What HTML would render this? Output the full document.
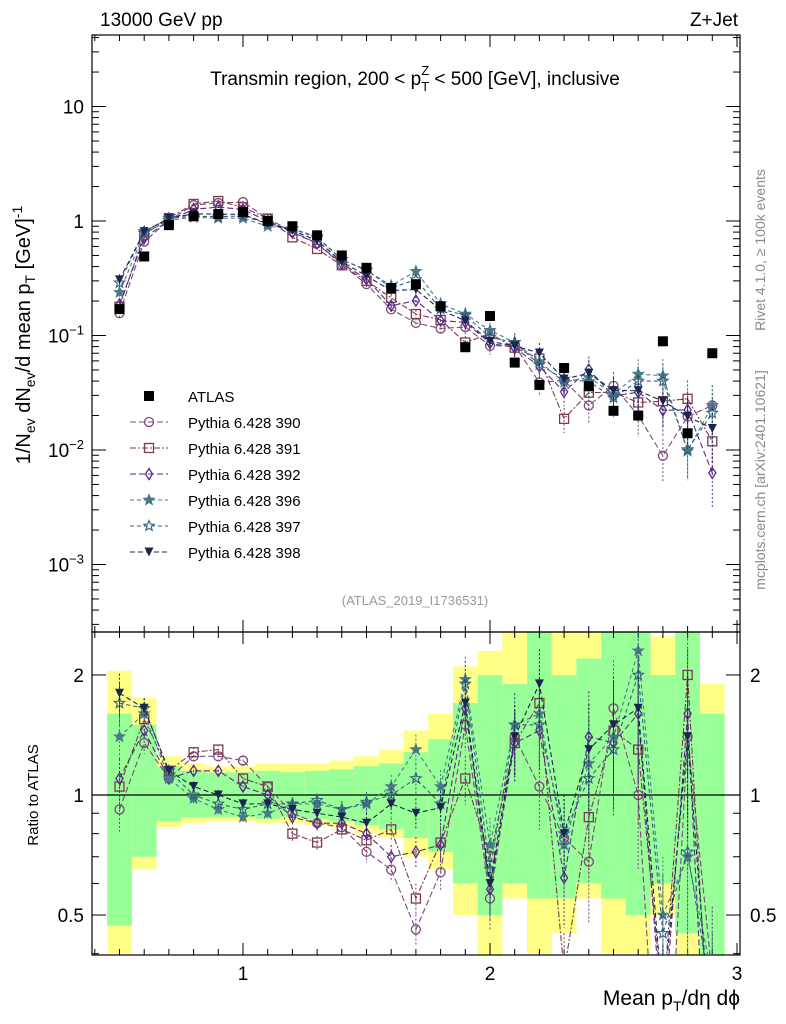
<!DOCTYPE html>
<html><head><meta charset="utf-8"><style>
html,body{margin:0;background:#fff;width:786px;height:1024px;overflow:hidden;}
svg{display:block;font-family:"Liberation Sans",sans-serif;}
</style></head><body>
<svg id="c" width="786" height="1024" xmlns="http://www.w3.org/2000/svg">
<text x="100" y="26" font-size="19">13000 GeV pp</text>
<text x="738" y="26" font-size="19" text-anchor="end">Z+Jet</text>
<text x="415" y="85" font-size="19" text-anchor="middle">Transmin region, 200 &lt; p<tspan font-size="13" dy="6">T</tspan><tspan font-size="13" dy="-16" dx="-8">Z</tspan><tspan dy="10"> &lt; 500 [GeV], inclusive</tspan></text>
<text x="415" y="605" font-size="13" fill="#999" text-anchor="middle">(ATLAS_2019_I1736531)</text>
<text transform="translate(765,250) rotate(-90)" font-size="14" fill="#888" text-anchor="middle">Rivet 4.1.0, ≥ 100k events</text>
<text transform="translate(765,480) rotate(-90)" font-size="14" fill="#888" text-anchor="middle">mcplots.cern.ch [arXiv:2401.10621]</text>
<text transform="translate(30,335) rotate(-90)" font-size="20" text-anchor="middle">1/N<tspan font-size="14" dy="5">ev</tspan><tspan dy="-5"> dN</tspan><tspan font-size="14" dy="5">ev</tspan><tspan dy="-5">/d mean p</tspan><tspan font-size="14" dy="5">T</tspan><tspan dy="-5"> [GeV]</tspan><tspan font-size="14" dy="-8">-1</tspan></text>
<text transform="translate(38,795) rotate(-90)" font-size="15" text-anchor="middle">Ratio to ATLAS</text>
<text x="740" y="1005" font-size="21" text-anchor="end">Mean p<tspan font-size="14" dy="6">T</tspan><tspan dy="-6">/dη dϕ</tspan></text>
<g id="g"></g>
</svg>
<script>
const bins=[0.5,0.6,0.7,0.8,0.9,1.0,1.1,1.2,1.3,1.4,1.5,1.6,1.7,1.8,1.9,2.0,2.1,2.2,2.3,2.4,2.5,2.6,2.7,2.8,2.9];
const atlas=[0.17,0.49,0.92,1.1,1.15,1.2,1.0,0.9,0.75,0.5,0.39,0.26,0.28,0.18,0.079,0.148,0.058,0.037,0.052,0.036,0.022,0.02,0.089,0.014,0.07];
const r390=[0.92,1.35,1.1,1.25,1.25,1.22,1.05,0.9,0.85,0.83,0.72,0.65,0.46,0.64,1.5,0.55,1.4,1.05,0.78,0.68,1.65,1.0,0.1,1.4,0.35];
const r391=[1.05,1.55,1.15,1.28,1.3,1.1,1.05,0.8,0.76,0.82,0.77,0.82,0.55,0.76,1.1,0.7,1.35,1.7,0.36,0.88,1.45,1.3,0.3,2.0,0.17];
const r392=[1.1,1.45,1.1,1.15,1.15,1.05,1.0,0.88,0.85,0.85,0.8,0.7,0.72,0.75,1.65,0.58,1.35,1.45,0.62,1.4,1.35,1.6,0.25,1.6,0.09];
const r396=[1.4,1.6,1.1,0.98,0.92,0.88,0.9,0.95,0.95,0.92,0.95,1.05,1.3,1.05,1.95,0.75,1.5,1.6,0.75,1.2,1.4,2.3,0.5,0.7,0.35];
const r397=[1.7,1.65,1.15,1.0,0.95,0.92,0.95,0.95,0.97,0.92,0.96,1.0,1.1,0.95,1.9,0.65,1.5,1.5,0.8,1.1,1.3,2.0,0.45,0.72,0.3];
const r398=[1.8,1.65,1.15,1.05,1.0,0.95,0.95,0.92,0.9,0.88,0.85,0.95,0.9,0.93,1.7,0.6,1.4,1.9,0.8,1.3,1.5,1.65,0.3,1.4,0.22];
const relErr=[0.12,0.06,0.03,0.03,0.03,0.03,0.03,0.04,0.04,0.05,0.06,0.07,0.09,0.1,0.14,0.17,0.2,0.22,0.25,0.3,0.32,0.35,0.4,0.45,0.5];
const yLo=[0.4,0.65,0.83,0.85,0.86,0.86,0.85,0.85,0.84,0.83,0.8,0.78,0.7,0.65,0.5,0.35,0.55,0.4,0.45,0.55,0.4,0.4,0.5,0.35,0.3];
const yHi=[2.05,1.75,1.25,1.2,1.18,1.18,1.2,1.2,1.2,1.22,1.25,1.3,1.45,1.6,2.1,2.3,2.6,2.6,2.6,2.6,2.6,2.6,2.5,2.6,1.9];
const gLo=[0.47,0.7,0.86,0.88,0.88,0.88,0.87,0.88,0.87,0.86,0.84,0.82,0.78,0.72,0.6,0.5,0.6,0.55,0.55,0.6,0.55,0.5,0.6,0.45,0.3];
const gHi=[1.6,1.5,1.18,1.15,1.14,1.14,1.15,1.14,1.15,1.16,1.18,1.2,1.28,1.38,1.7,2.0,1.9,2.6,2.0,2.2,2.6,2.6,2.0,2.6,1.6];
const series=[
 {n:'Pythia 6.428 390',r:r390,c:'#7b4a7b',m:'circle',d:'6,3'},
 {n:'Pythia 6.428 391',r:r391,c:'#7a3b4e',m:'square',d:'6,2,2,2'},
 {n:'Pythia 6.428 392',r:r392,c:'#5a2a8a',m:'diamond',d:'6,3'},
 {n:'Pythia 6.428 396',r:r396,c:'#4a7a88',m:'starf',d:'4,3'},
 {n:'Pythia 6.428 397',r:r397,c:'#35607f',m:'staro',d:'4,3'},
 {n:'Pythia 6.428 398',r:r398,c:'#1b2550',m:'tri',d:'5,3'}];
const L=92,R=740,T=35,M=632,B=955;
const X=v=>-4+247*v;
const Y=v=>221-114.5*Math.log10(v);
const YR=v=>795-398.7*Math.log10(v);
const g=document.getElementById('g');
const NS='http://www.w3.org/2000/svg';
function el(t,a,p){const e=document.createElementNS(NS,t);for(const k in a)e.setAttribute(k,a[k]);(p||g).appendChild(e);return e;}
const clipR=el('clipPath',{id:'cr'});el('rect',{x:L,y:M,width:R-L,height:B-M},clipR);
const bandG=el('g',{'clip-path':'url(#cr)'});
bins.forEach((b,i)=>{
 const r1=el('rect',{x:X(b-0.05),y:YR(yHi[i]),width:X(b+0.05)-X(b-0.05),height:YR(yLo[i])-YR(yHi[i]),fill:'#ffff88'},bandG);
 
 
 const r2=el('rect',{x:X(b-0.05),y:YR(gHi[i]),width:X(b+0.05)-X(b-0.05),height:YR(gLo[i])-YR(gHi[i]),fill:'#99ff99'},bandG);
 
 
});
el('line',{x1:L,x2:R,y1:YR(1),y2:YR(1),stroke:'#000','stroke-width':1.2});
el('rect',{x:L,y:T,width:R-L,height:M-T,fill:'none',stroke:'#000','stroke-width':1.2});
el('rect',{x:L,y:M,width:R-L,height:B-M,fill:'none',stroke:'#000','stroke-width':1.2});
for(let v=0.4;v<=3.001;v+=0.1){const maj=Math.abs(v-Math.round(v))<0.01;const len=maj?12:6;
 [[M,-1],[B,-1],[T,1],[M,1]].forEach(([y,s])=>el('line',{x1:X(v),x2:X(v),y1:y,y2:y+s*len,stroke:'#000'}));
 if(maj){const t=el('text',{x:X(v),y:B+25,'font-size':19,'text-anchor':'middle'});t.textContent=Math.round(v);
 
 }}
for(let e=-4;e<=1;e++)for(let k=1;k<10;k++){const v=k*Math.pow(10,e);const y=Y(v);if(y<T||y>M)continue;const len=k==1?14:7;
 el('line',{x1:L,x2:L+len,y1:y,y2:y,stroke:'#000'});el('line',{x1:R,x2:R-len,y1:y,y2:y,stroke:'#000'});}
const yl=[['10',10],['1',1],['10⁻¹',0.1],['10⁻²',0.01],['10⁻³',0.001]];
yl.forEach(([s,v])=>{const t=el('text',{x:L-8,y:Y(v)+7,'font-size':19,'text-anchor':'end'});
 if(s.length>2){t.innerHTML='10<tspan font-size="13" dy="-8">'+(v==0.1?'−1':v==0.01?'−2':'−3')+'</tspan>';}else t.textContent=s;
 
 });
[0.4,0.5,0.6,0.7,0.8,0.9,1,2].forEach(v=>{const y=YR(v);const len=(v==0.5||v==1||v==2)?14:7;
 el('line',{x1:L,x2:L+len,y1:y,y2:y,stroke:'#000'});el('line',{x1:R,x2:R-len,y1:y,y2:y,stroke:'#000'});});
[['0.5',0.5],['1',1],['2',2]].forEach(([s,v])=>{[[L-8,'end'],[R+10,'start']].forEach(([x,a])=>{
 const t=el('text',{x:x,y:YR(v)+7,'font-size':19,'text-anchor':a});t.textContent=s;
 
 });});
function marker(m,x,y,c,p){
 const s=4.5;let e;
 if(m=='circle')e=el('circle',{cx:x,cy:y,r:s,fill:'none',stroke:c,'stroke-width':1.3},p);
 else if(m=='square')e=el('rect',{x:x-s,y:y-s,width:2*s,height:2*s,fill:'none',stroke:c,'stroke-width':1.3},p);
 else if(m=='diamond')e=el('polygon',{points:`${x},${y-s-1} ${x+s-1},${y} ${x},${y+s+1} ${x-s+1},${y}`,fill:'none',stroke:c,'stroke-width':1.3},p);
 else if(m=='tri')e=el('polygon',{points:`${x-s},${y-s} ${x+s},${y-s} ${x},${y+s}`,fill:c},p);
 else if(m=='sq')e=el('rect',{x:x-5,y:y-5,width:10,height:10,fill:c},p);
 else{let pts=[];for(let k=0;k<10;k++){const rr=k%2?2.3:5.5;const a=-Math.PI/2+k*Math.PI/5;pts.push((x+rr*Math.cos(a)).toFixed(1)+','+(y+rr*Math.sin(a)).toFixed(1));}
  e=el('polygon',{points:pts.join(' '),fill:m=='starf'?c:'none',stroke:c,'stroke-width':1.1},p);}
 return e;}
const clipM=el('clipPath',{id:'cm'});el('rect',{x:L,y:T,width:R-L,height:M-T},clipM);
const mainG=el('g',{'clip-path':'url(#cm)'});
const ratG=el('g',{'clip-path':'url(#cr)'});
series.forEach((s,si)=>{
 const vals=bins.map((b,i)=>atlas[i]*s.r[i]);
 el('polyline',{points:bins.map((b,i)=>X(b)+','+Y(vals[i])).join(' '),fill:'none',stroke:s.c,'stroke-dasharray':s.d,'stroke-width':1.1},mainG);
 el('polyline',{points:bins.map((b,i)=>X(b)+','+YR(s.r[i])).join(' '),fill:'none',stroke:s.c,'stroke-dasharray':s.d,'stroke-width':1.1},ratG);
 bins.forEach((b,i)=>{const e=relErr[i];
  el('line',{x1:X(b),x2:X(b),y1:Y(vals[i]*(1+e)),y2:Y(Math.max(vals[i]*(1-e),1e-5)),stroke:s.c,'stroke-dasharray':'2,2'},mainG);
  el('line',{x1:X(b),x2:X(b),y1:YR(s.r[i]*(1+e)),y2:YR(Math.max(s.r[i]*(1-e),0.01)),stroke:s.c,'stroke-dasharray':'2,2'},ratG);
  const m1=marker(s.m,X(b),Y(vals[i]),s.c,mainG);
  
  
  const m2=marker(s.m,X(b),YR(s.r[i]),s.c,ratG);
  
  
 });
 const ly=422+si*26;
 el('line',{x1:130,x2:168,y1:ly,y2:ly,stroke:s.c,'stroke-dasharray':s.d});
 marker(s.m,149,ly,s.c);
 const t=el('text',{x:188,y:ly+6,'font-size':15});t.textContent=s.n;
 
 
});
bins.forEach((b,i)=>{const m=marker('sq',X(b),Y(atlas[i]),'#000',mainG);
 
 });
marker('sq',149,396,'#000');
const at=el('text',{x:188,y:402,'font-size':15});at.textContent='ATLAS';


</script>
</body></html>
